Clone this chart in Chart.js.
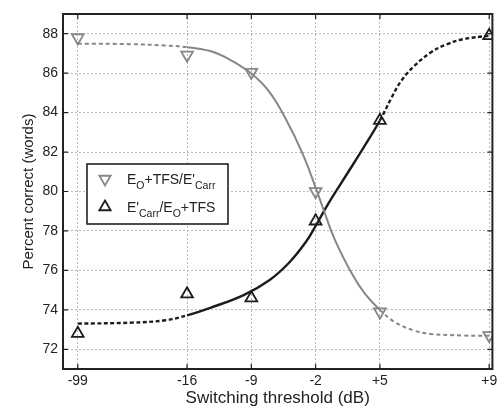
<!DOCTYPE html>
<html>
<head>
<meta charset="utf-8">
<script src="https://cdn.jsdelivr.net/npm/chart.js@4/dist/chart.umd.min.js"></script>
<style>
  html, body { margin: 0; padding: 0; background: #fff; }
  #wrap { width: 501px; height: 409px; }
</style>
</head>
<body>
<div id="wrap"><canvas id="chart"></canvas></div>
<script>
// switching thresholds (dB) and where they sit on the broken x axis
const xTickLabels = ['-99', '-16', '-9', '-2', '+5', '+9'];
const xPos = [0, 1.7, 2.7, 3.7, 4.7, 6.4];
const yTicks = [72, 74, 76, 78, 80, 82, 84, 86, 88];

// measured scores
const eoTfsCarr = [87.8, 86.92, 86.05, 80.0, 73.9, 72.7];
const carrEoTfs = [72.8, 74.8, 74.6, 78.5, 83.6, 87.9];

// fitted curves
const fitX = [0, 0.84, 1.36, 1.7, 2.06, 2.37, 2.7, 2.98, 3.24, 3.5, 3.7, 3.81, 4.0, 4.27, 4.46, 4.7, 4.92, 5.23, 5.49, 5.99, 6.4];
const fitEoTfsCarr = [87.5, 87.47, 87.4, 87.32, 87.12, 86.68, 85.98, 85.05, 83.65, 81.9, 80.2, 79.2, 77.55, 75.8, 74.85, 74.0, 73.4, 72.95, 72.78, 72.7, 72.68];
const fitX2 = [0, 0.84, 1.36, 1.7, 2.06, 2.58, 2.98, 3.29, 3.55, 3.7, 3.9, 4.2, 4.46, 4.7, 4.88, 5.03, 5.23, 5.49, 5.73, 5.99, 6.4];
const fitCarrEoTfs = [73.3, 73.35, 73.47, 73.72, 74.1, 74.75, 75.5, 76.4, 77.45, 78.25, 79.4, 80.95, 82.3, 83.6, 84.75, 85.6, 86.35, 87.05, 87.45, 87.72, 87.9];

const GRAY = '#878787';
const DARK = '#1c1c1c';
const FONT = "'Liberation Sans', Arial, sans-serif";

const pts = (xs, ys) => xs.map((x, i) => ({ x: x, y: ys[i] }));
const dashOutside = dash => ctx =>
    (ctx.p1.parsed.x <= xPos[1] + 1e-6 || ctx.p0.parsed.x >= xPos[4] - 1e-6) ? dash : undefined;

const framePlugin = {
    id: 'frame',
    afterDraw(chart) {
        const ctx = chart.ctx;
        const a = chart.chartArea;
        const xs = chart.scales.x, ys = chart.scales.y;
        ctx.save();
        // inward ticks
        ctx.strokeStyle = '#222';
        ctx.lineWidth = 1.2;
        ctx.beginPath();
        xPos.forEach(v => {
            const px = xs.getPixelForValue(v);
            ctx.moveTo(px, a.bottom); ctx.lineTo(px, a.bottom - 5);
            ctx.moveTo(px, a.top); ctx.lineTo(px, a.top + 5);
        });
        yTicks.forEach(v => {
            const py = ys.getPixelForValue(v);
            ctx.moveTo(a.left, py); ctx.lineTo(a.left + 5, py);
            ctx.moveTo(a.right, py); ctx.lineTo(a.right - 5, py);
        });
        ctx.stroke();
        // axes box
        ctx.lineWidth = 2;
        ctx.strokeRect(a.left, a.top, a.right - a.left, a.bottom - a.top);

        // legend
        const bx = a.left + 24, by = a.top + 150, bw = 141, bh = 60;
        ctx.fillStyle = '#fff';
        ctx.fillRect(bx, by, bw, bh);
        ctx.lineWidth = 1.6;
        ctx.strokeRect(bx, by, bw, bh);

        const tri = (cx, cy, r, down, color) => {
            ctx.strokeStyle = color;
            ctx.lineWidth = 1.8;
            ctx.beginPath();
            const s = down ? -1 : 1;
            ctx.moveTo(cx, cy - s * r);
            ctx.lineTo(cx + r * 0.866, cy + s * r * 0.5);
            ctx.lineTo(cx - r * 0.866, cy + s * r * 0.5);
            ctx.closePath();
            ctx.stroke();
        };
        const rich = (parts, x, y) => {
            ctx.fillStyle = '#222';
            ctx.textBaseline = 'alphabetic';
            parts.forEach(p => {
                ctx.font = (p.sub ? '10.5px ' : '14px ') + FONT;
                ctx.fillText(p.t, x, p.sub ? y + 5 : y);
                x += ctx.measureText(p.t).width;
            });
        };
        tri(bx + 18, by + 15, 6.5, true, GRAY);
        rich([{ t: 'E' }, { t: 'O', sub: true }, { t: "+TFS/E'" }, { t: 'Carr', sub: true }], bx + 40, by + 20);
        tri(bx + 18, by + 43, 6.5, false, DARK);
        rich([{ t: "E'" }, { t: 'Carr', sub: true }, { t: '/E' }, { t: 'O', sub: true }, { t: '+TFS' }], bx + 40, by + 48);
        ctx.restore();
    }
};

new Chart(document.getElementById('chart').getContext('2d'), {
    type: 'scatter',
    data: {
        datasets: [
            {
                label: "EO+TFS/E'Carr",
                data: pts(xPos, eoTfsCarr),
                pointStyle: 'triangle',
                rotation: 180,
                pointRadius: 6.8,
                borderWidth: 1.8,
                borderColor: GRAY,
                backgroundColor: 'rgba(255,255,255,0)',
                showLine: false
            },
            {
                label: "E'Carr/EO+TFS",
                data: pts(xPos, carrEoTfs),
                pointStyle: 'triangle',
                pointRadius: 6.8,
                borderWidth: 1.8,
                borderColor: DARK,
                backgroundColor: 'rgba(255,255,255,0)',
                showLine: false
            },
            {
                label: 'fit 1',
                data: pts(fitX, fitEoTfsCarr),
                showLine: true,
                pointRadius: 0,
                borderColor: GRAY,
                borderWidth: 2,
                tension: 0.4,
                segment: { borderDash: dashOutside([4, 3]) }
            },
            {
                label: 'fit 2',
                data: pts(fitX2, fitCarrEoTfs),
                showLine: true,
                pointRadius: 0,
                borderColor: DARK,
                borderWidth: 2.4,
                tension: 0.4,
                segment: { borderDash: dashOutside([4, 2.5]) }
            }
        ]
    },
    options: {
        responsive: true,
        maintainAspectRatio: false,
        animation: false,
        layout: { padding: { top: 14, right: 1, left: 0, bottom: 0 } },
        plugins: {
            legend: { display: false },
            tooltip: { enabled: false }
        },
        scales: {
            x: {
                type: 'linear',
                min: -0.23,
                max: 6.45,
                afterBuildTicks: s => { s.ticks = xPos.map(v => ({ value: v })); },
                afterFit: s => { s.height = 40; s.paddingLeft = 0; s.paddingRight = 0; },
                ticks: {
                    autoSkip: false,
                    maxRotation: 0,
                    padding: 4,
                    color: '#222',
                    font: { family: FONT, size: 14 },
                    callback: v => xTickLabels[xPos.indexOf(v)]
                },
                grid: { color: '#b8b8b8', drawTicks: false, lineWidth: 1 },
                border: { display: false, dash: [2, 2] },
                title: {
                    display: true,
                    text: 'Switching threshold (dB)',
                    color: '#222',
                    font: { family: FONT, size: 17 },
                    padding: { top: 0, bottom: 0 }
                }
            },
            y: {
                min: 71,
                max: 89,
                afterBuildTicks: s => { s.ticks = yTicks.map(v => ({ value: v })); },
                afterFit: s => { s.width = 63; s.paddingTop = 0; s.paddingBottom = 0; },
                ticks: {
                    padding: 5,
                    color: '#222',
                    font: { family: FONT, size: 14 }
                },
                grid: { color: '#b8b8b8', drawTicks: false, lineWidth: 1 },
                border: { display: false, dash: [2, 2] },
                title: {
                    display: true,
                    text: 'Percent correct (words)',
                    color: '#222',
                    font: { family: FONT, size: 15 },
                    padding: { top: 20, bottom: 0 }
                }
            }
        }
    },
    plugins: [framePlugin]
});
</script>
</body>
</html>
